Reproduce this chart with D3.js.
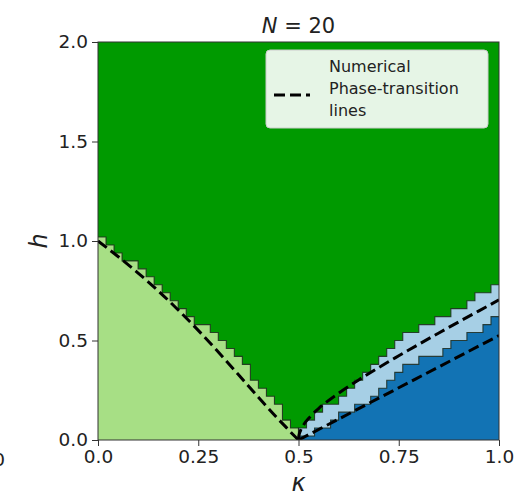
<!DOCTYPE html>
<html>
<head>
<meta charset="utf-8">
<script src="https://cdn.jsdelivr.net/npm/d3@7"></script>
<style>
  html, body { margin: 0; padding: 0; background: #fff; }
  svg text { font-family: "DejaVu Sans", sans-serif; fill: #222; }
</style>
</head>
<body>
<svg id="chart" width="517" height="496"></svg>
<script>
// Phase diagram of the ANNNI chain, N = 20, on a 50 x 50 (kappa, h) grid.
// Each column spans 0.02 in kappa; the arrays give the upper edge (in h)
// of each labelled phase in that column.
const kappaStep = 0.02;

// kappa in [0, 0.5): top of the ferromagnetic region per column
const ferroTop = [1.02, 0.98, 0.94, 0.90, 0.90, 0.86, 0.82, 0.78, 0.74, 0.70,
                  0.66, 0.62, 0.58, 0.58, 0.54, 0.50, 0.46, 0.42, 0.38, 0.30,
                  0.26, 0.22, 0.18, 0.10, 0.06];

// kappa in [0.5, 1]: top of the antiphase region per column
const antiTop = [0.02, 0.02, 0.06, 0.06, 0.10, 0.14, 0.14, 0.18, 0.18, 0.22,
                 0.26, 0.30, 0.34, 0.38, 0.38, 0.42, 0.42, 0.42, 0.46, 0.50,
                 0.50, 0.54, 0.54, 0.58, 0.62];

// kappa in [0.5, 1]: top of the floating-phase region per column
const floatTop = [0.06, 0.10, 0.14, 0.18, 0.18, 0.22, 0.26, 0.30, 0.34, 0.38,
                  0.42, 0.46, 0.50, 0.54, 0.54, 0.58, 0.58, 0.62, 0.62, 0.66,
                  0.66, 0.70, 0.74, 0.74, 0.78];

// Transition lines
const isingK = [0.0, 0.05, 0.10, 0.15, 0.20, 0.25, 0.30, 0.35, 0.40, 0.45, 0.47, 0.49, 0.50];
const isingH = [1.0, 0.922, 0.839, 0.750, 0.653, 0.551, 0.442, 0.329, 0.215, 0.104, 0.062, 0.020, 0.0];

const kthK = [0.50, 0.501, 0.505, 0.51, 0.53, 0.55, 0.60, 0.65, 0.70, 0.75, 0.80, 0.85, 0.90, 0.95, 1.0];
const kthH = [0.0, 0.021, 0.047, 0.067, 0.119, 0.158, 0.235, 0.302, 0.364, 0.423, 0.481, 0.538, 0.594, 0.649, 0.704];

const bktK = [0.50, 0.75, 1.0];
const bktH = [0.0, 0.2625, 0.525];

const xTicks = [0, 0.25, 0.5, 0.75, 1.0];
const xTickLabels = ["0.0", "0.25", "0.5", "0.75", "1.0"];
const yTicks = [0, 0.5, 1.0, 1.5, 2.0];
const yTickLabels = ["0.0", "0.5", "1.0", "1.5", "2.0"];

const colors = {
  para: "#009a00",
  ferro: "#a7df85",
  floating: "#a6cfe5",
  anti: "#1273b4"
};

const svg = d3.select("#chart");
const margin = { left: 98, right: 18, top: 42, bottom: 56 };
const W = 517, H = 496;
const x = d3.scaleLinear().domain([0, 1]).range([margin.left, W - margin.right]);
const y = d3.scaleLinear().domain([0, 2]).range([H - margin.bottom, margin.top]);

svg.append("defs").append("clipPath").attr("id", "plotClip")
  .append("rect")
  .attr("x", x(0)).attr("y", y(2))
  .attr("width", x(1) - x(0)).attr("height", y(0) - y(2));

const plot = svg.append("g").attr("clip-path", "url(#plotClip)");

// background: paramagnetic phase
plot.append("rect")
  .attr("x", x(0)).attr("y", y(2))
  .attr("width", x(1) - x(0)).attr("height", y(0) - y(2))
  .attr("fill", colors.para);

// staircase boundary of each phase, one step per kappa column
function stairPoints(tops, offset) {
  const pts = [];
  tops.forEach((t, i) => {
    pts.push([(offset + i) * kappaStep, t]);
    pts.push([(offset + i + 1) * kappaStep, t]);
  });
  return pts;
}
const stair = d3.line().x(d => x(d[0])).y(d => y(d[1]));

const ferroPts = stairPoints(ferroTop, 0).concat([[0.5, 0]]);
const floatPts = [[0.5, 0]].concat(stairPoints(floatTop, 25));
const antiPts = [[0.5, 0]].concat(stairPoints(antiTop, 25));

// filled regions
[
  [[[0, 0]].concat(ferroPts), colors.ferro],
  [floatPts.concat([[1, 0]]), colors.floating],
  [antiPts.concat([[1, 0]]), colors.anti]
].forEach(([pts, color]) => {
  plot.append("path")
    .attr("d", stair(pts) + "Z")
    .attr("fill", color)
    .attr("stroke", "none");
});

// thin dark outlines along the boundaries
[ferroPts, floatPts, antiPts].forEach(pts => {
  plot.append("path")
    .attr("d", stair(pts))
    .attr("fill", "none")
    .attr("stroke", "#1c2a1c")
    .attr("stroke-opacity", 0.85)
    .attr("stroke-width", 1.1);
});

// dashed transition lines
const curve = d3.line().x(d => x(d[0])).y(d => y(d[1])).curve(d3.curveMonotoneX);
[[isingK, isingH], [kthK, kthH], [bktK, bktH]].forEach(([ks, hs]) => {
  plot.append("path")
    .attr("d", curve(ks.map((k, i) => [k, hs[i]])))
    .attr("fill", "none")
    .attr("stroke", "#000")
    .attr("stroke-width", 3)
    .attr("stroke-dasharray", "11,5");
});

// frame
svg.append("rect")
  .attr("x", x(0)).attr("y", y(2))
  .attr("width", x(1) - x(0)).attr("height", y(0) - y(2))
  .attr("fill", "none")
  .attr("stroke", "#333")
  .attr("stroke-width", 1);

// axes
const tickFont = "18.5px";
const xAxis = d3.axisBottom(x).tickValues(xTicks).tickFormat((d, i) => xTickLabels[i]).tickSize(6).tickPadding(4);
const yAxis = d3.axisLeft(y).tickValues(yTicks).tickFormat((d, i) => yTickLabels[i]).tickSize(6).tickPadding(4);

const gx = svg.append("g").attr("transform", `translate(0,${y(0)})`).call(xAxis);
const gy = svg.append("g").attr("transform", `translate(${x(0)},0)`).call(yAxis);
[gx, gy].forEach(g => {
  g.select(".domain").remove();
  g.selectAll(".tick line").attr("stroke", "#333");
  g.selectAll(".tick text").attr("font-size", tickFont).attr("fill", "#222")
    .attr("font-family", "DejaVu Sans, sans-serif");
});

// axis labels
svg.append("text")
  .attr("x", x(0.5)).attr("y", 491)
  .attr("text-anchor", "middle")
  .attr("font-size", "24px")
  .attr("font-style", "italic")
  .text("κ");

svg.append("text")
  .attr("transform", `translate(47,${y(1)}) rotate(-90)`)
  .attr("text-anchor", "middle")
  .attr("font-size", "24px")
  .attr("font-style", "italic")
  .text("h");

// title
const title = svg.append("text")
  .attr("x", x(0.5)).attr("y", 33)
  .attr("text-anchor", "middle")
  .attr("font-size", "21px");
title.append("tspan").attr("font-style", "italic").text("N");
title.append("tspan").text(" = 20");

// neighbouring panel's last tick label, cut by the figure edge
svg.append("text")
  .attr("x", 5).attr("y", 466)
  .attr("text-anchor", "end")
  .attr("font-size", tickFont)
  .text("1.0");

// legend
const lg = svg.append("g").attr("transform", "translate(266,50)");
lg.append("rect")
  .attr("width", 222).attr("height", 78).attr("rx", 4)
  .attr("fill", "#ffffff").attr("fill-opacity", 0.9)
  .attr("stroke", "#cccccc").attr("stroke-width", 1);
lg.append("line")
  .attr("x1", 8).attr("x2", 44).attr("y1", 45).attr("y2", 45)
  .attr("stroke", "#000").attr("stroke-width", 3)
  .attr("stroke-dasharray", "11,5");
const legendLines = ["Numerical", "Phase-transition", "lines"];
lg.selectAll("text.lab")
  .data(legendLines)
  .join("text")
  .attr("class", "lab")
  .attr("x", 63)
  .attr("y", (d, i) => 22 + i * 22)
  .attr("font-size", "16px")
  .text(d => d);
</script>
</body>
</html>
